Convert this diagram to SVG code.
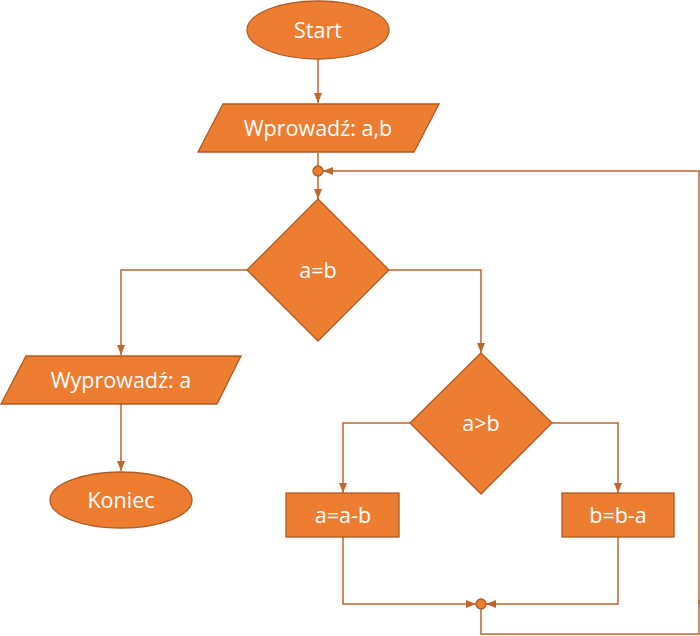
<svg xmlns="http://www.w3.org/2000/svg" width="700" height="636" viewBox="0 0 700 636">
<style>
.s{fill:#ED7D31;stroke:#AE5A21;stroke-width:1.3}
.t{fill:#fff;font-family:"Open Sans","Liberation Sans",sans-serif;font-size:21.5px;text-anchor:middle;dominant-baseline:central}
.c{fill:none;stroke:#C0652B;stroke-width:1.5}
</style>
<defs>
<marker id="a" markerUnits="userSpaceOnUse" markerWidth="10" markerHeight="10" viewBox="0 0 10 10" refX="10" refY="5" orient="auto">
<path d="M0,1 L10,5 L0,9 Z" fill="#C0652B"/>
</marker>
</defs>
<rect width="700" height="636" fill="#fff"/>
<g id="connectors">
<path class="c" d="M318,59 V103" marker-end="url(#a)"/>
<path class="c" d="M318,153 V166"/>
<path class="c" d="M318,176 V199" marker-end="url(#a)"/>
<path class="c" d="M699,604 V171 H323" marker-end="url(#a)"/>
<path class="c" d="M247,270 H121 V355" marker-end="url(#a)"/>
<path class="c" d="M121,404 V471" marker-end="url(#a)"/>
<path class="c" d="M389,270 H481 V353" marker-end="url(#a)"/>
<path class="c" d="M410,423 H343 V493" marker-end="url(#a)"/>
<path class="c" d="M552,423 H618 V493" marker-end="url(#a)"/>
<path class="c" d="M343,537 V604 H476" marker-end="url(#a)"/>
<path class="c" d="M618,537 V604 H486" marker-end="url(#a)"/>
<path class="c" d="M481,609 V634 H699 V600"/>
</g>
<g id="j1"><circle class="s" cx="318" cy="171" r="5"/></g>
<g id="j2"><circle class="s" cx="481" cy="604" r="5"/></g>
<g id="start"><ellipse class="s" cx="318" cy="30" rx="71" ry="29"/><text class="t" x="318" y="29">Start</text></g>
<g id="input"><path class="s" d="M223,104 H439 L414,152 H198 Z"/><text class="t" x="318" y="127">Wprowadź: a,b</text></g>
<g id="cond1"><path class="s" d="M318,199 L389,270 L318,341 L247,270 Z"/><text class="t" x="318" y="269">a=b</text></g>
<g id="output"><path class="s" d="M26,356 H241 L217,404 H1 Z"/><text class="t" x="121" y="379">Wyprowadź: a</text></g>
<g id="end"><ellipse class="s" cx="121" cy="500" rx="71" ry="28"/><text class="t" x="121" y="499">Koniec</text></g>
<g id="cond2"><path class="s" d="M481,353 L552,423 L481,494 L410,423 Z"/><text class="t" x="481" y="422">a&gt;b</text></g>
<g id="sub1"><rect class="s" x="286" y="493" width="113" height="44"/><text class="t" x="343" y="514">a=a-b</text></g>
<g id="sub2"><rect class="s" x="562" y="493" width="112" height="44"/><text class="t" x="618" y="514">b=b-a</text></g>
</svg>
